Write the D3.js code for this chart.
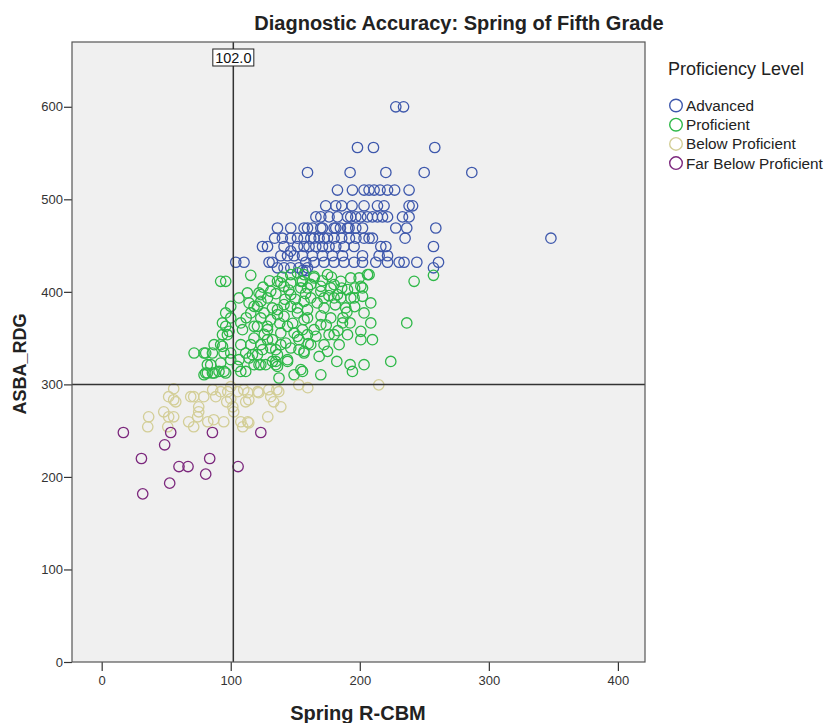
<!DOCTYPE html>
<meta charset="utf-8">
<style>
  body { margin: 0; background: #fff; }
  text { font-family: "Liberation Sans", Arial, sans-serif; }
</style>
<script src="https://d3js.org/d3.v7.min.js"></script>
<div id="chart"></div>
<script>

// proficiency levels and their colours
var levels = ["Advanced", "Proficient", "Below Proficient", "Far Below Proficient"];
var colors = ["#3e58ac", "#2eb848", "#d3ce97", "#7c287d"];

// [Spring R-CBM, ASBA_RDG]
var advanced = [
  [227.9,600],[233.9,600],
  [198.2,556],[210.6,556],[258.1,556],
  [159.5,529],[192.5,529],[220.2,529],[249.9,529],[286.8,529],
  [182.7,510],[194.3,510],[203.3,510],[207.2,510],[211.1,510],[215.7,510],[221.5,510],[227,510],[238.2,510],
  [173.6,493],[181.4,493],[186,493],[194,493],[203.3,493],[213.7,493],[218.8,493],[238.2,493],[240.9,493],
  [166,481],[169.8,481],[176.2,481],[182.7,481],[190.5,481],[193.0,481],[196.9,481],[200.8,481],[206.0,481],
  [209.8,481],[213.7,481],[217.6,481],[221.5,481],[233.1,481],[238.2,481],
  [136.2,469],[146.5,469],[156.8,469],[159.5,469],[163.3,469],[169.8,469],[171.1,469],[180.1,469],
  [181.4,469],[185,469],[190.5,469],[191.7,469],[196.9,469],[202.1,469],[227.9,469],[236.4,469],[258.9,469],
  [134,458],[140,458],[146.5,458],[151.7,458],[156.8,458],[162.0,458],[164.6,458],[168.5,458],[172.3,458],[175.0,458],
  [180.1,458],[186,458],[192,458],[197,458],[203.3,458],[207.2,458],[209.8,458],[235.1,458],[348.1,458],
  [124.6,449],[128.5,449],[141.3,449],[151.7,449],[156.8,449],[160.7,449],[165.9,449],[171.1,449],
  [176.2,449],[181.4,449],[187.8,449],[195.6,449],[216.3,449],[220.2,449],[257.1,449],
  [146.5,444],
  [138.8,439],[144.0,439],[149.1,439],[155.6,439],[163.3,439],[171.1,439],[178.8,439],[186.6,439],
  [202.1,439],[215.0,439],[221.5,439],
  [103.9,432],[110.3,432],[129.7,432],[132.3,432],[158.1,432],[164.6,432],[172.3,432],[180.1,432],
  [187.8,432],[195.6,432],[202.1,432],[212.4,432],[221.5,432],[230.5,432],[234.3,432],[244.2,432],[261.0,432],
  [136.2,426],[141.3,426],[146.5,426],[152.9,426],[159.5,426],[257.1,426],
  [155.6,423],[158.1,423]
];

var proficient = [
  [92.2,411.4],[96.1,411.4],[115.5,417.9],[106.4,393.4],[112.9,398.8],[121.9,398.8],[100.0,384.3],
  [96.1,377.2],[93.6,366.4],[96.1,362.7],[100.0,371.8],[107.8,366.4],[109.1,359.1],[93.6,353.7],
  [97.4,353.7],[115.5,377.2],[118.1,384.3],[123.3,389.7],[128.5,393.4],[120.7,362.7],[118.1,362.7],
  [128.5,362.7],[123.3,371.8],[132.3,382.6],[136.2,375.3],[141.3,386.2],[146.5,397.0],[151.7,382.6],
  [156.8,389.7],[138.8,409.6],[146.5,409.6],[154.3,404.2],[87.1,342.9],[93.6,341.1],[85.8,333.9],
  [71.6,333.9],[79.3,333.9],[94.8,333.9],[100.0,326.7],[84.5,321.3],[90.9,314.0],[80.6,312.3],
  [85.8,312.3],[96.1,312.3],[106.4,326.7],[107.8,342.9],[111.6,333.9],[115.5,342.9],[114.2,328.5],
  [120.7,332.1],[123.3,342.9],[128.5,348.3],[131.0,339.3],[118.1,321.3],[123.3,321.3],[127.1,321.3],
  [107.8,314.0],[111.6,314.0],[138.8,342.9],[136.2,332.1],[134.9,324.8],[134.9,321.3],[144.0,324.8],
  [149.1,310.4],[154.3,315.9],[137.4,306.9],[146.5,339.3],[156.8,333.9],[151.7,351.9],[159.5,353.7],
  [242.1,411.4],[257.1,417.9],[236.4,366.4],[224.0,324.8],[208.5,388.0],[203.3,377.2],[202.1,395.2],
  [208.5,366.4],[209.8,348.3],[200.8,357.3],[200.8,348.3],[192.5,366.4],[186.6,366.4],[190.5,353.7],
  [184.0,342.9],[182.2,324.8],[192.5,321.3],[194.3,314.0],[203.3,321.3],[169.8,310.4],[175.0,335.7],
  [168.5,330.2],[176.2,353.7],[180.1,353.7],[172.3,342.9],[189.1,382.6],[177.5,371.8],[195.6,393.4],
  [202.1,404.2],[207.2,418.6],[199.5,415.0],[180.1,393.4],[185.3,393.4],[162.0,342.9],[156.8,335.7],
  [155.6,314.0],[164.6,359.1],[169.8,364.5],[159.5,371.8],[172.3,382.6],[162.0,393.4],[169.8,400.6],
  [177.5,404.2],[185.3,411.4],[193.0,415.0],[164.6,415.0],[175.0,418.6],[156.8,418.6],
  [98.7,357.3],[80.6,333.9],[81.9,321.3],[92.2,342.9],[100.0,333.9],[92.2,323.1],[81.9,312.3],
  [87.1,312.3],[94.8,314.0],[105.2,319.4],[116.8,332.1],[121.9,321.3],[132.3,324.8],[136.2,319.4],
  [144.0,326.7],[124.6,337.5],[134.9,337.5],[152.9,337.5],[120.7,384.3],[125.8,377.2],[131.0,369.9],
  [136.2,380.8],[141.3,373.5],[146.5,384.3],[151.7,377.2],[156.8,369.9],[128.5,359.1],[138.8,355.6],
  [144.0,362.7],[149.1,355.6],[155.6,359.1],[132.3,348.3],[142.6,344.7],[152.9,348.3],[159.5,380.8],
  [114.2,388.0],[146.5,418.6],[151.7,420.5],[136.2,411.4],[141.3,406.0],[154.3,411.4],[159.5,404.2],
  [131.0,400.6],[123.3,397.0],[164.6,416.8],[206.0,418.6],[169.8,406.0],[180.1,407.8],[190.5,402.4],
  [200.8,406.0],[172.3,393.4],[182.7,397.0],[193.0,393.4],[155.6,411.4],[79.3,310.4],
  [125,405],[130,412],[135,398],[140,416],[145,402],[150,392],[158,398],[162,408],[167,388],
  [171,412],[176,396],[181,386],[186,404],[190,378],[196,384],[187,372],[174,364],[166,352],
  [160,344],[148,366],[142,392],[138,366],[126,354],[118,350],[112,372],[170,374],[183,358],
  [196,404],[178,416]
];

var belowProficient = [
  [55.8,295.3],[51.9,286.7],[57.4,281.2],[69.0,286.7],[71.3,286.7],[79.1,286.7],[86.0,294.2],
  [88.4,286.7],[92.2,292.1],[97.7,292.1],[96.9,281.2],[105.4,292.1],[110.1,294.2],[111.6,281.2],
  [113.2,291.0],[120.9,292.1],[129.5,294.2],[131.0,286.7],[137.2,292.1],[133.3,281.2],[138.8,275.8],
  [75.2,275.8],[75.2,270.4],[48.1,270.4],[51.9,265.0],[36.4,265.0],[35.7,254.2],[51.2,254.2],
  [67.4,259.6],[71.3,254.2],[82.2,259.6],[94.6,259.6],[102.3,270.4],[107.8,259.6],[109.3,254.2],
  [113.2,259.6],[128.7,265.0],[100.0,297.5],[114.0,283.4],[121.7,291.0],[135.7,294.2],[152.7,299.6],
  [159.7,296.4],[74.4,265.0],[55.8,265.0],[114.0,258.5],[101.6,275.8],[86.8,261.8],[214.7,299.5],
  [55.8,283.4],[100.0,284.5]
];

var farBelowProficient = [
  [16.8,248],[53.5,248],[85.8,248],[123.3,248],[48.8,234.7],[30.8,219.9],[83.7,219.9],
  [59.9,211.2],[66.9,211.2],[105.7,211.2],[80.6,203],[52.7,193.3],[31.8,181.7]
];

var series = [advanced, proficient, belowProficient, farBelowProficient];

var xTicks = [0, 100, 200, 300, 400];
var yTicks = [0, 100, 200, 300, 400, 500, 600];
var cutX = 102.0, cutY = 300;

var W = 827, H = 723;
var plotL = 72, plotR = 645, plotT = 42, plotB = 662;

var svg = d3.select("#chart").append("svg")
    .attr("width", W).attr("height", H);

var x = d3.scaleLinear().domain([-23, 421]).range([plotL, plotR]);
var y = d3.scaleLinear().domain([0, 670]).range([plotB, plotT]);

// plot background
svg.append("rect")
    .attr("x", plotL).attr("y", plotT)
    .attr("width", plotR - plotL).attr("height", plotB - plotT)
    .attr("fill", "#f0f0f0");

// axes
var xAxis = svg.append("g")
    .attr("transform", "translate(0," + plotB + ")")
    .call(d3.axisBottom(x).tickValues(xTicks).tickSize(9).tickPadding(5).tickFormat(d3.format("d")));
var yAxis = svg.append("g")
    .attr("transform", "translate(" + plotL + ",0)")
    .call(d3.axisLeft(y).tickValues(yTicks).tickSize(8).tickPadding(1).tickFormat(d3.format("d")));
[xAxis, yAxis].forEach(function(a) {
  a.select(".domain").remove();
  a.selectAll("line").attr("stroke", "#333").attr("stroke-width", 1.2);
  a.selectAll("text").attr("fill", "#333").style("font-size", "13px")
    .style("font-family", "'Liberation Sans', Arial, sans-serif");
});

// points
series.forEach(function(pts, i) {
  svg.append("g").selectAll("circle")
    .data(pts)
    .enter()
    .append("circle")
      .attr("cx", function(d) { return x(d[0]); })
      .attr("cy", function(d) { return y(d[1]); })
      .attr("r", 5.2)
      .attr("fill", "none")
      .attr("stroke", colors[i])
      .attr("stroke-width", 1.3);
});

// reference lines
svg.append("line")
    .attr("x1", x(cutX)).attr("x2", x(cutX))
    .attr("y1", plotT).attr("y2", plotB)
    .attr("stroke", "#333").attr("stroke-width", 1.5);
svg.append("line")
    .attr("x1", plotL).attr("x2", plotR)
    .attr("y1", y(cutY)).attr("y2", y(cutY))
    .attr("stroke", "#333").attr("stroke-width", 1.5);

svg.append("rect")
    .attr("x", x(cutX) - 20.5).attr("y", 49)
    .attr("width", 41).attr("height", 17)
    .attr("fill", "#fff").attr("stroke", "#222").attr("stroke-width", 1);
svg.append("text")
    .attr("x", x(cutX)).attr("y", 63)
    .attr("text-anchor", "middle")
    .style("font-size", "14.5px").attr("fill", "#111")
    .text(d3.format(".1f")(cutX));

// frame
svg.append("rect")
    .attr("x", plotL).attr("y", plotT)
    .attr("width", plotR - plotL).attr("height", plotB - plotT)
    .attr("fill", "none").attr("stroke", "#555").attr("stroke-width", 1.2);

// titles
svg.append("text")
    .attr("x", 459).attr("y", 30)
    .attr("text-anchor", "middle")
    .style("font-size", "20px").style("font-weight", "bold").attr("fill", "#222")
    .text("Diagnostic Accuracy: Spring of Fifth Grade");
svg.append("text")
    .attr("x", 358).attr("y", 720)
    .attr("text-anchor", "middle")
    .style("font-size", "20px").style("font-weight", "bold").attr("fill", "#222")
    .text("Spring R-CBM");
svg.append("text")
    .attr("transform", "translate(26,364)rotate(-90)")
    .attr("text-anchor", "middle")
    .style("font-size", "18px").style("font-weight", "bold").attr("fill", "#222")
    .text("ASBA_RDG");

// legend
svg.append("text")
    .attr("x", 668).attr("y", 75)
    .style("font-size", "18px").attr("fill", "#222")
    .text("Proficiency Level");
levels.forEach(function(name, i) {
  var ly = 105.5 + i * 19.2;
  svg.append("circle")
      .attr("cx", 676).attr("cy", ly).attr("r", 6.3)
      .attr("fill", "none").attr("stroke", colors[i]).attr("stroke-width", 1.4);
  svg.append("text")
      .attr("x", 686).attr("y", ly + 5.5)
      .style("font-size", "15.3px").attr("fill", "#222")
      .text(name);
});
</script>
